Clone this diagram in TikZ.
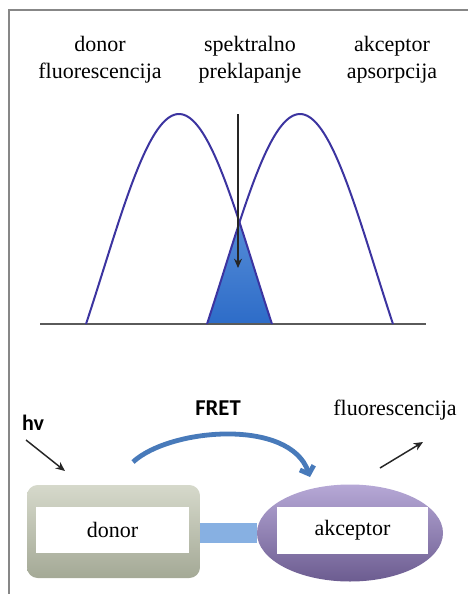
\documentclass[tikz,border=0pt]{standalone}
\usepackage{fontspec}
\setmainfont{Liberation Serif}
\newfontfamily\serifface{Liberation Serif}
\newfontfamily\calib{Carlito}
\usetikzlibrary{arrows.meta,positioning,shapes.geometric,backgrounds}
\definecolor{framegray}{RGB}{135,135,135}
\definecolor{axisgray}{RGB}{90,90,90}
\definecolor{specline}{RGB}{60,52,160}
\definecolor{overlaptop}{RGB}{85,140,215}
\definecolor{overlapbot}{RGB}{45,108,200}
\definecolor{fretblue}{RGB}{72,122,186}
\definecolor{bridgeblue}{RGB}{135,176,226}
\definecolor{donortop}{RGB}{214,217,203}
\definecolor{donorbot}{RGB}{164,169,150}
\definecolor{acctop}{RGB}{182,168,214}
\definecolor{accbot}{RGB}{108,92,144}

\begin{document}
\begin{tikzpicture}[
  x=0.75pt, y=-0.75pt,
  font=\serifface\fontsize{16.5}{20.25}\selectfont,
  declare function={hump(\t)=sin(\t)*(0.85+0.15*sin(\t));},
  frame/.style={framegray, line width=1.5pt},
  axis/.style={axisgray, line width=1.5pt},
  curve/.style={specline, line width=1.5pt},
  overlap/.style={top color=overlaptop, bottom color=overlapbot},
  pointer/.style={-{Stealth[length=7pt,width=6pt]}, line width=1.1pt, black!85},
  heading/.style={align=center, inner sep=0pt},
  donorbox/.style={rectangle, rounded corners=8pt, minimum width=129.75pt,
                   minimum height=69.75pt, top color=donortop, bottom color=donorbot},
  accbox/.style={ellipse, minimum width=139.5pt, minimum height=72.75pt,
                 top color=acctop, bottom color=accbot},
  labelbox/.style={rectangle, fill=white, minimum height=35pt, inner sep=0pt},
  fret/.style={-{Straight Barb[length=5pt,width=11pt]}, fretblue, line width=3.6pt},
  bridge/.style={bridgeblue, line width=15pt}
]
  \useasboundingbox (0,0) rectangle (468,594);
  \draw[frame] (9,594) -- (9,10) -- (468,10);

  \node[heading] (dfl) at (100,59.5) {donor\\fluorescencija};
  \node[heading] (spo) at (250,59.5) {spektralno\\preklapanje};
  \node[heading] (aab) at (392,59.5) {akceptor\\apsorpcija};

  \path[overlap] plot[domain=207:239.5, samples=30] (\x,{324-210*hump((393-\x)/186*180)})
    -- plot[domain=239.5:272, samples=30] (\x,{324-210*hump((\x-86)/186*180)}) -- cycle;
  \draw[axis] (40,324) -- (426,324);
  \draw[curve] plot[domain=86:272, samples=90, smooth] (\x,{324-210*hump((\x-86)/186*180)});
  \draw[curve] plot[domain=207:393, samples=90, smooth] (\x,{324-210*hump((393-\x)/186*180)});

  \coordinate (ovtop) at (238,114);
  \coordinate (ovtip) at (238,268);
  \draw[pointer] (ovtop) -- (ovtip);

  \node[donorbox] (donor) at (113.5,531.5) {};
  \node[labelbox, minimum width=114.75pt] (dlab) at (112.5,530) {donor};
  \node[accbox] (akc) at (350,533) {};
  \node[labelbox, minimum width=113.25pt] (alab) at (352.5,530.5) {akceptor};
  \begin{scope}[on background layer]
    \draw[bridge] (donor.east |- akc.west) -- (akc.west);
  \end{scope}

  \node[font=\calib\bfseries\fontsize{17}{20}\selectfont] (fretlab) at (218,408) {FRET};
  \node[font=\calib\bfseries\fontsize{16.5}{20}\selectfont] (hv) at (33,423) {hv};
  \node (fluo) at (395,410) {fluorescencija};

  \coordinate (hvs) at (26,440);
  \coordinate (hve) at (65,471);
  \coordinate (fls) at (380,468);
  \coordinate (fle) at (423,442);
  \coordinate (frs) at (133,462);
  \coordinate (fre) at (310,477);
  \draw[pointer] (hvs) -- (hve);
  \draw[pointer] (fls) -- (fle);
  \draw[fret] (frs) .. controls (170,428) and (290,418) .. (fre);
\end{tikzpicture}
\end{document}
